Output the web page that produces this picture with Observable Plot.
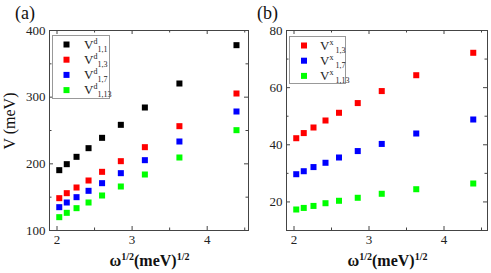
<!DOCTYPE html>
<html><head><meta charset="utf-8">
<script src="https://cdn.jsdelivr.net/npm/d3@7"></script>
<script src="https://cdn.jsdelivr.net/npm/@observablehq/plot@0.6"></script>
<style>
body{margin:0;background:#fff}
#wrap{position:relative;width:491px;height:273px;overflow:hidden}
.panel{position:absolute;top:0;height:273px}
.panel svg{position:absolute;left:0;top:0}
#wrap svg text, #wrap svg tspan{font-family:"Liberation Serif","Times New Roman",serif !important}
</style>
</head><body>
<div id="wrap"><div id="pa" class="panel" style="left:0;width:250px"></div><div id="pb" class="panel" style="left:250px;width:241px"></div></div>
<script>
// sqrt(omega) values, (meV)^1/2
const xVals = [2.03, 2.13, 2.26, 2.42, 2.60, 2.85, 3.17, 3.63, 4.39];
// panel (a): V^d (meV)
const vd11  = [190.5, 199.5, 210.5, 223.5, 239, 258.5, 284.5, 320.5, 378];
const vd13  = [148.5, 156, 164.5, 175, 188, 204, 225, 256.5, 305.5];
const vd17  = [135, 142, 150, 159.5, 171, 186, 205.5, 233.5, 278.5];
const vd113 = [120, 126.5, 133.5, 142, 152.5, 166, 184, 209.5, 250.5];
// panel (b): V^x (meV)
const vx13  = [42.3, 44.1, 46.05, 48.5, 51.2, 54.6, 58.8, 64.35, 72.2];
const vx17  = [29.7, 30.75, 32.2, 33.7, 35.55, 37.8, 40.3, 43.95, 48.85];
const vx113 = [17.35, 17.9, 18.6, 19.55, 20.4, 21.45, 22.85, 24.45, 26.45];

const xMajor = [2, 3, 4], xMinor = [2.5, 3.5, 4.5];
const yMajorA = [100, 200, 300, 400], yMinorA = [150, 250, 350];
const yMajorB = [20, 40, 60, 80], yMinorB = [30, 50, 70];

const FONT = '"Liberation Serif","Times New Roman",serif';
const AX = "#444";
const NS = "http://www.w3.org/2000/svg";

function panel(host, o) {
  const mt = 30, mb = 43, H = 273;
  const fw = o.width - o.ml - o.mr, fh = H - mt - mb;
  const TL = 4, tl = 2.5;
  const marks = [];
  const ticksY = (vals, len) => [
    Plot.tickY(vals, {y: d => d, insetRight: fw - len, stroke: AX}),
    Plot.tickY(vals, {y: d => d, insetLeft: fw - len, stroke: AX})
  ];
  const ticksX = (vals, len) => [
    Plot.tickX(vals, {x: d => d, insetTop: fh - len, stroke: AX}),
    Plot.tickX(vals, {x: d => d, insetBottom: fh - len, stroke: AX})
  ];
  marks.push(...ticksY(o.yMajor, TL), ...ticksY(o.yMinor, tl), ...ticksX(xMajor, TL), ...ticksX(xMinor, tl));
  for (const s of o.series) {
    marks.push(Plot.dot(xVals.map((x, i) => ({x, y: s.values[i]})),
      {x: "x", y: "y", symbol: "square", r: 3.4, fill: s.color, stroke: "none"}));
  }
  marks.push(Plot.frame({stroke: AX}));
  marks.push(Plot.axisX({ticks: xMajor, tickSize: 0, tickPadding: 4, tickFormat: d => d, fontSize: 13, fontFamily: FONT, fill: "#222", label: null}));
  marks.push(Plot.axisY({ticks: o.yMajor, tickSize: 0, tickPadding: 4, tickFormat: d => d, fontSize: 13, fontFamily: FONT, fill: "#222", label: null}));
  const svg = Plot.plot({
    width: o.width, height: H,
    marginLeft: o.ml, marginRight: o.mr, marginTop: mt, marginBottom: mb,
    x: {domain: o.xDomain},
    y: {domain: o.yDomain},
    style: {fontFamily: FONT, fontSize: "13px", background: "white"},
    marks
  });
  host.appendChild(svg);
  // overlay svg for panel tag, titles and legend
  const ov = d3.select(host).append("svg").attr("width", o.width).attr("height", H);
  ov.append("text").attr("x", o.tagX).attr("y", 19).attr("font-family", FONT).attr("font-size", 18).attr("fill", "#111").text(o.tag);
  const xt = ov.append("text").attr("x", o.ml + fw / 2 + 1).attr("y", 266).attr("text-anchor", "middle")
    .attr("font-family", FONT).attr("font-size", 16).attr("font-weight", "bold").attr("fill", "#111");
  xt.append("tspan").text("ω");
  xt.append("tspan").attr("dy", -6).attr("font-size", 10).text("1/2");
  xt.append("tspan").attr("dy", 6).text("(meV)");
  xt.append("tspan").attr("dy", -6).attr("font-size", 10).text("1/2");
  if (o.yTitle) {
    ov.append("text").attr("transform", "translate(15,121) rotate(-90)").attr("text-anchor", "middle")
      .attr("font-family", FONT).attr("font-size", 16).attr("fill", "#111").text(o.yTitle);
  }
  const L = o.legend;
  ov.append("rect").attr("x", L.x).attr("y", L.y).attr("width", L.w).attr("height", L.h)
    .attr("fill", "white").attr("stroke", "#999").attr("stroke-width", 1);
  o.series.forEach((s, i) => {
    const cy = L.y + 9 + i * 15.2;
    ov.append("rect").attr("x", L.sx - 3).attr("y", cy - 3).attr("width", 6).attr("height", 6).attr("fill", s.color);
    const t = ov.append("text").attr("x", L.tx).attr("y", cy + 4)
      .attr("font-family", FONT).attr("font-size", 13).attr("fill", "#222");
    t.append("tspan").text("V");
    t.append("tspan").attr("dy", -5).attr("font-size", 8).text(o.sup);
    t.append("tspan").attr("dy", 8).attr("dx", o.sup === "x" ? 2 : 0).attr("font-size", 8).text(s.sub);
  });
}

panel(document.getElementById("pa"), {
  width: 250, ml: 49, mr: 2, xDomain: [1.9, 4.55], yDomain: [100, 400],
  yMajor: yMajorA, yMinor: yMinorA, tag: "(a)", tagX: 15, yTitle: "V (meV)", sup: "d",
  legend: {x: 52.5, y: 35.5, w: 57, h: 63, sx: 66.5, tx: 84},
  series: [
    {values: vd11, color: "#000000", sub: "1,1"},
    {values: vd13, color: "#ff0000", sub: "1,3"},
    {values: vd17, color: "#0000ff", sub: "1,7"},
    {values: vd113, color: "#00ff00", sub: "1,13"}
  ]
});
panel(document.getElementById("pb"), {
  width: 241, ml: 36, mr: 4, xDomain: [1.9, 4.58], yDomain: [10, 80],
  yMajor: yMajorB, yMinor: yMinorB, tag: "(b)", tagX: 7, yTitle: null, sup: "x",
  legend: {x: 39.5, y: 36.5, w: 56, h: 47, sx: 54, tx: 70},
  series: [
    {values: vx13, color: "#ff0000", sub: "1,3"},
    {values: vx17, color: "#0000ff", sub: "1,7"},
    {values: vx113, color: "#00ff00", sub: "1,13"}
  ]
});
</script>
</body></html>
